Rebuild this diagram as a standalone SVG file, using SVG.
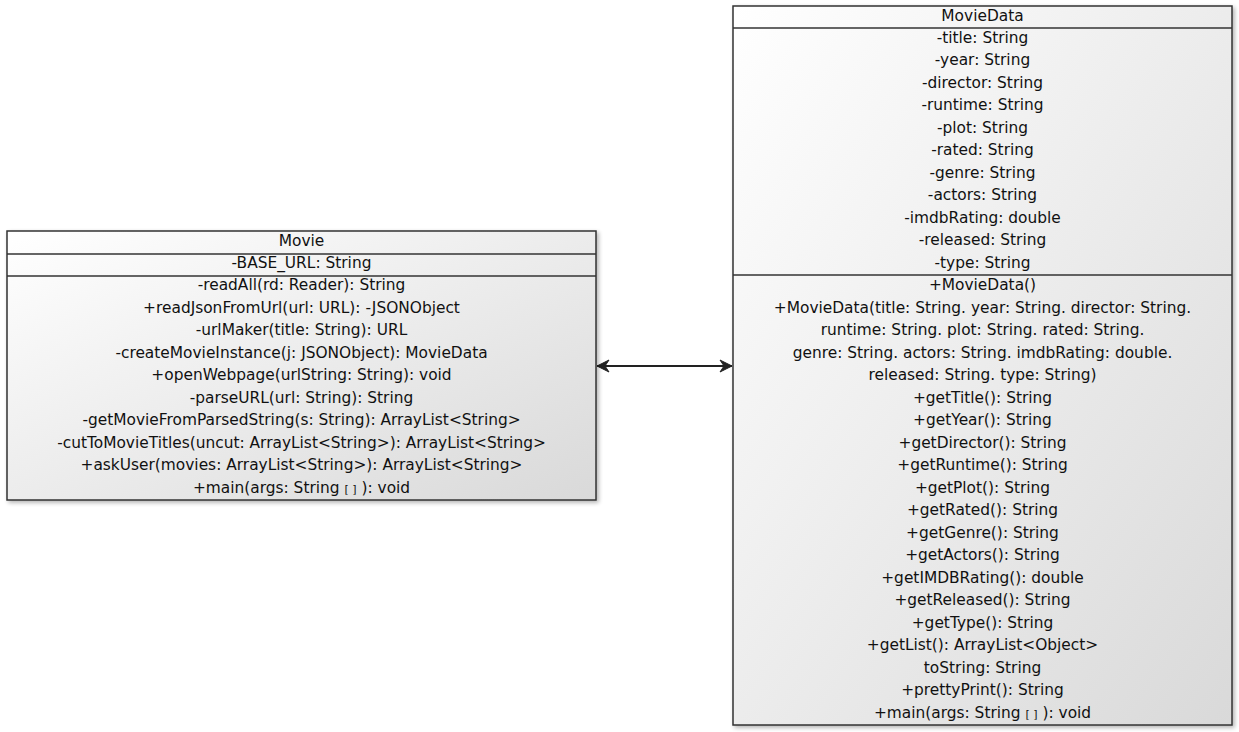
<svg xmlns="http://www.w3.org/2000/svg" width="1239" height="732" viewBox="0 0 1239 732">
<defs>
<linearGradient id="g" x1="0" y1="0" x2="1" y2="1">
<stop offset="0" stop-color="#ffffff"/>
<stop offset="1" stop-color="#d9d9d9"/>
</linearGradient>
<filter id="sh" x="-5%" y="-5%" width="110%" height="110%">
<feGaussianBlur in="SourceAlpha" stdDeviation="2"/>
<feOffset dx="2" dy="2" result="b"/>
<feComponentTransfer><feFuncA type="linear" slope="0.3"/></feComponentTransfer>
<feMerge><feMergeNode/><feMergeNode in="SourceGraphic"/></feMerge>
</filter>
<marker id="arr" viewBox="0 0 14 14" refX="13" refY="7" markerWidth="14" markerHeight="14" markerUnits="userSpaceOnUse" orient="auto-start-reverse">
<path d="M1,1 L13,7 L1,13 L5,7 Z" fill="#222" stroke="#222" stroke-width="1" stroke-linejoin="miter"/>
</marker>
</defs>
<style>
.box{fill:url(#g);stroke:#333;stroke-width:1.5;filter:url(#sh)}
.sep{stroke:#333;stroke-width:1.5}
text{font-family:"DejaVu Sans","Liberation Sans",sans-serif;font-size:15.4px;fill:#111;text-anchor:middle}
.br{font-size:11px}
.conn{stroke:#222;stroke-width:2;fill:none}
</style>
<rect width="1239" height="732" fill="#fff"/>
<g id="connectors">
<line class="conn" x1="597" y1="366" x2="732" y2="366" marker-start="url(#arr)" marker-end="url(#arr)"/>
</g>
<g id="Movie">
<rect class="box" x="7" y="231" width="589" height="269"/>
<line class="sep" x1="7" y1="254" x2="596" y2="254"/>
<line class="sep" x1="7" y1="276" x2="596" y2="276"/>
<text x="301.5" y="246">Movie</text>
<text x="301.5" y="268">-BASE_URL: String</text>
<text x="301.5" y="290">-readAll(rd: Reader): String</text>
<text x="301.5" y="313">+readJsonFromUrl(url: URL): -JSONObject</text>
<text x="301.5" y="335">-urlMaker(title: String): URL</text>
<text x="301.5" y="358">-createMovieInstance(j: JSONObject): MovieData</text>
<text x="301.5" y="380">+openWebpage(urlString: String): void</text>
<text x="301.5" y="403">-parseURL(url: String): String</text>
<text x="301.5" y="425">-getMovieFromParsedString(s: String): ArrayList&lt;String&gt;</text>
<text x="301.5" y="448">-cutToMovieTitles(uncut: ArrayList&lt;String&gt;): ArrayList&lt;String&gt;</text>
<text x="301.5" y="470">+askUser(movies: ArrayList&lt;String&gt;): ArrayList&lt;String&gt;</text>
<text x="301.5" y="493">+main(args: String <tspan class="br">[ ]</tspan> ): void</text>
</g>
<g id="MovieData">
<rect class="box" x="733" y="6" width="499" height="719"/>
<line class="sep" x1="733" y1="28" x2="1232" y2="28"/>
<line class="sep" x1="733" y1="275" x2="1232" y2="275"/>
<text x="982.5" y="21">MovieData</text>
<text x="982.5" y="43">-title: String</text>
<text x="982.5" y="65">-year: String</text>
<text x="982.5" y="88">-director: String</text>
<text x="982.5" y="110">-runtime: String</text>
<text x="982.5" y="133">-plot: String</text>
<text x="982.5" y="155">-rated: String</text>
<text x="982.5" y="178">-genre: String</text>
<text x="982.5" y="200">-actors: String</text>
<text x="982.5" y="223">-imdbRating: double</text>
<text x="982.5" y="245">-released: String</text>
<text x="982.5" y="268">-type: String</text>
<text x="982.5" y="290">+MovieData()</text>
<text x="982.5" y="313">+MovieData(title: String. year: String. director: String.</text>
<text x="982.5" y="335">runtime: String. plot: String. rated: String.</text>
<text x="982.5" y="358">genre: String. actors: String. imdbRating: double.</text>
<text x="982.5" y="380">released: String. type: String)</text>
<text x="982.5" y="403">+getTitle(): String</text>
<text x="982.5" y="425">+getYear(): String</text>
<text x="982.5" y="448">+getDirector(): String</text>
<text x="982.5" y="470">+getRuntime(): String</text>
<text x="982.5" y="493">+getPlot(): String</text>
<text x="982.5" y="515">+getRated(): String</text>
<text x="982.5" y="538">+getGenre(): String</text>
<text x="982.5" y="560">+getActors(): String</text>
<text x="982.5" y="583">+getIMDBRating(): double</text>
<text x="982.5" y="605">+getReleased(): String</text>
<text x="982.5" y="628">+getType(): String</text>
<text x="982.5" y="650">+getList(): ArrayList&lt;Object&gt;</text>
<text x="982.5" y="673">toString: String</text>
<text x="982.5" y="695">+prettyPrint(): String</text>
<text x="982.5" y="718">+main(args: String <tspan class="br">[ ]</tspan> ): void</text>
</g>
</svg>
